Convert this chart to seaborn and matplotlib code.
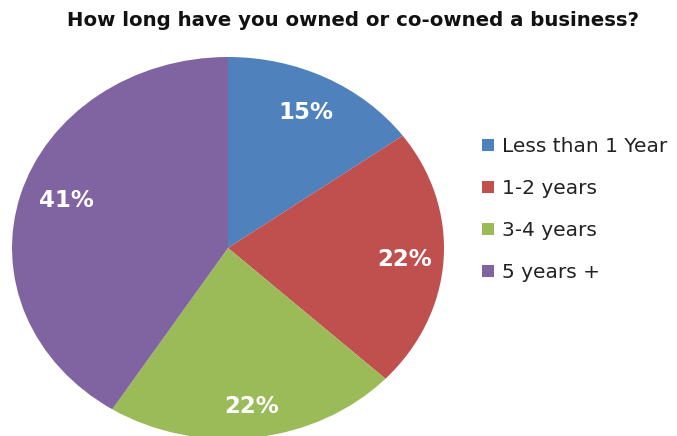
import matplotlib
matplotlib.use("Agg")
import matplotlib.pyplot as plt
import seaborn as sns

sns.set_theme(style="white")
plt.rcParams["font.family"] = ["DejaVu Sans"]

categories = ["Less than 1 Year", "1-2 years", "3-4 years", "5 years +"]
shares = [15, 22, 22, 41]
colors = ["#4F81BD", "#C0504D", "#9BBB59", "#8064A2"]
title = "How long have you owned or co-owned a business?"

# Label anchor points in unit-pie coordinates (Excel-style best-fit placement)
label_pos = [(0.36, 0.71), (0.82, -0.06), (0.11, -0.83), (-0.75, 0.25)]

W, H = 677, 436
fig = plt.figure(figsize=(W / 100, H / 100), dpi=100)
fig.patch.set_facecolor("white")

# Pie is stretched into an ellipse: axes spans 432 x 382 px
ax = fig.add_axes([12 / W, -3 / H, 432 / W, 382 / H])
wedges, texts, autotexts = ax.pie(
    shares,
    colors=colors,
    startangle=90,
    counterclock=False,
    autopct=lambda p: f"{p:.0f}%",
    wedgeprops=dict(linewidth=0),
    textprops=dict(color="white", fontsize=16.5, fontweight="bold"),
)
for t, (x, y) in zip(autotexts, label_pos):
    t.set_position((x, y))
    t.set_ha("center")
    t.set_va("center")
ax.set_aspect("auto")
ax.set_xlim(-1, 1)
ax.set_ylim(-1, 1)
ax.axis("off")

fig.text(353 / W, 1 - 21 / H, title, ha="center", va="center",
         fontsize=14.2, fontweight="bold", color="#111111")

fig.legend(
    wedges, categories,
    loc="upper left",
    bbox_to_anchor=(464 / W, 1 - 119 / H),
    frameon=False,
    fontsize=14.5,
    handlelength=0.6, handleheight=0.6,
    handletextpad=0.4,
    labelspacing=1.14,
    labelcolor="#222222",
)

fig.savefig("out.png", dpi=100, facecolor="white")
